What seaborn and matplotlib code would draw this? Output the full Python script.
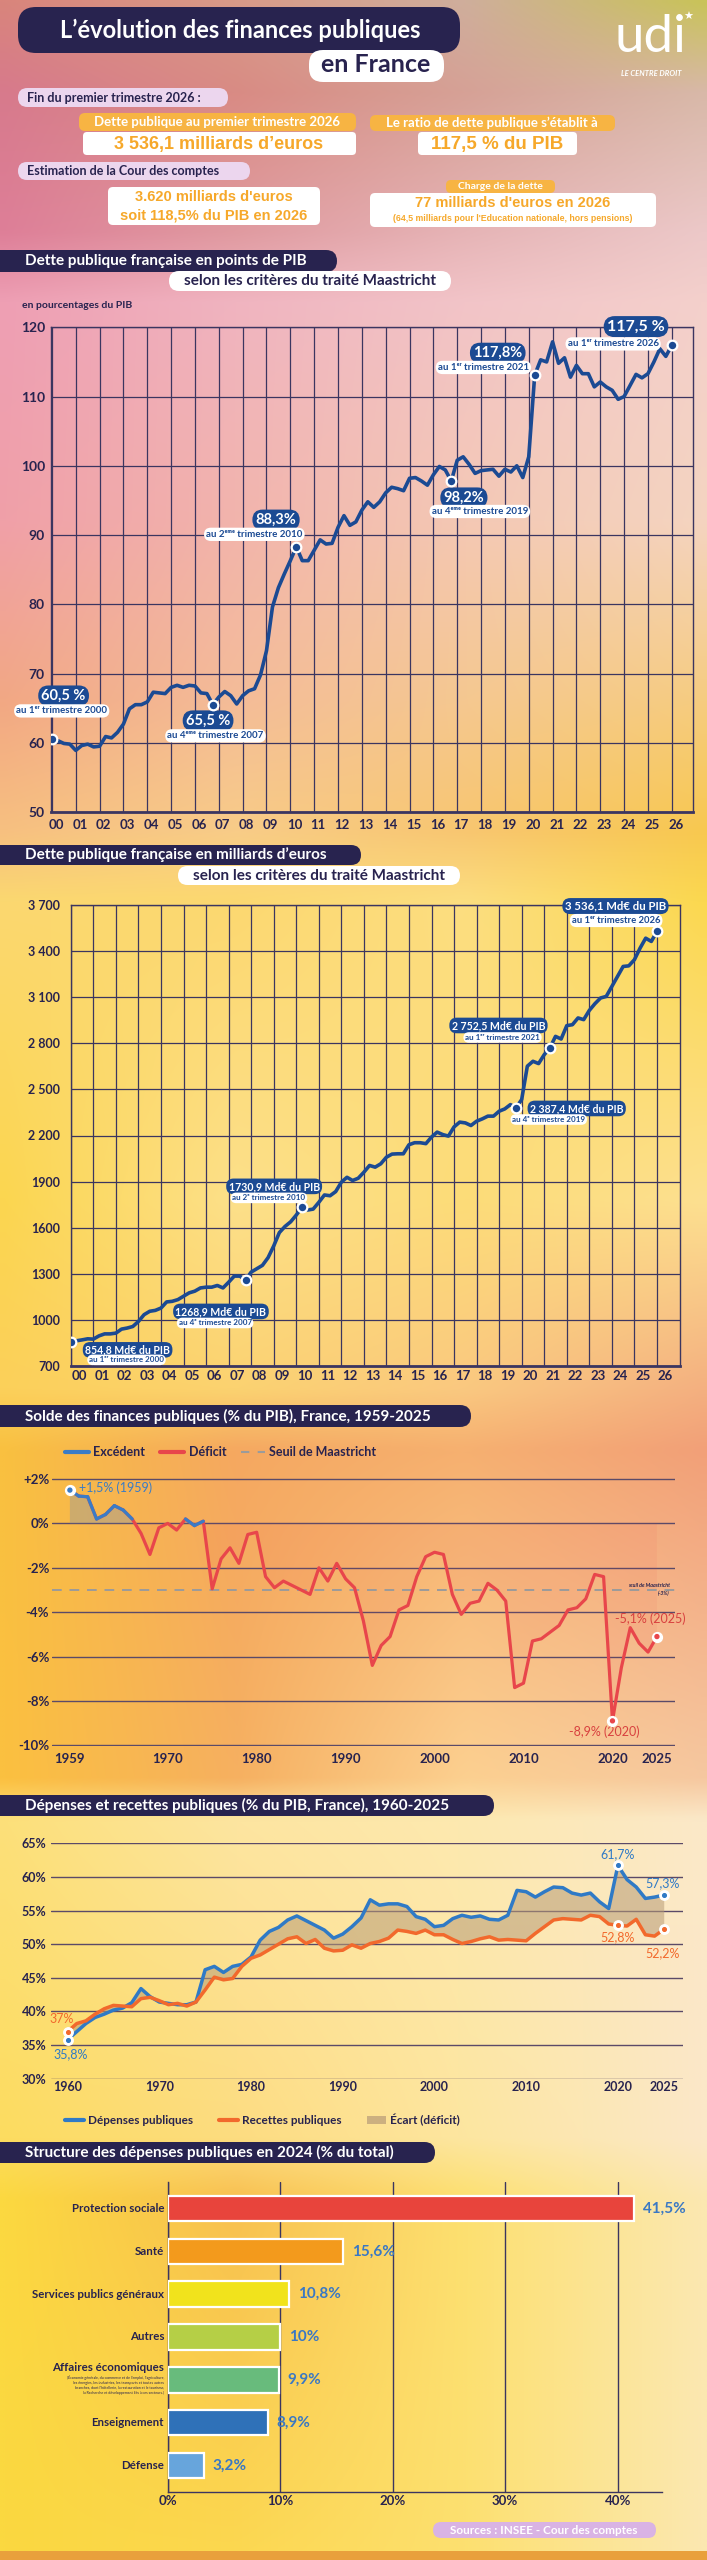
import numpy as np
import seaborn as sns
import matplotlib
matplotlib.use("Agg")
import matplotlib.pyplot as plt
from matplotlib.patches import FancyBboxPatch, Rectangle, Patch
from matplotlib.lines import Line2D
from matplotlib.colors import to_rgb

# ---------------- data ----------------
# dette publique en % du PIB, trimestres 2000T1 -> 2026T1
debt_pct = [60.5, 60.3, 59.9, 59.8, 58.9, 59.6, 59.8, 59.4, 59.5, 60.9, 60.7, 61.5,
            62.7, 64.9, 65.5, 65.5, 65.9, 67.3, 67.2, 67.1, 68.0, 68.3, 68.0, 68.3,
            68.2, 67.2, 67.1, 65.5, 66.6, 67.4, 66.8, 65.6, 66.8, 67.5, 67.8, 69.8,
            73.3, 79.6, 82.4, 84.4, 86.3, 88.3, 86.3, 86.3, 87.8, 89.3, 88.7, 88.8,
            91.1, 92.8, 91.4, 91.9, 93.6, 94.8, 94.0, 94.8, 96.1, 96.9, 96.7, 96.4,
            98.2, 98.3, 97.8, 97.2, 98.7, 99.9, 99.4, 97.8, 100.8, 101.3, 100.2, 98.9,
            99.3, 99.4, 99.5, 98.5, 99.5, 99.1, 100.0, 98.3, 101.3, 113.1, 115.3, 115.0,
            117.9, 114.8, 115.6, 112.8, 114.5, 113.3, 113.3, 111.4, 112.1, 111.4, 110.9, 109.6,
            110.0, 111.6, 113.2, 112.7, 113.3, 115.0, 116.9, 115.8, 117.4]
# dette publique en milliards d'euros, trimestres 2000T1 -> 2026T1
debt_bn = [857, 864, 870, 877, 875, 896, 909, 909, 914, 940, 947, 957,
           990, 1034, 1056, 1062, 1077, 1117, 1121, 1132, 1154, 1176, 1187, 1208,
           1213, 1213, 1224, 1208, 1245, 1285, 1285, 1259, 1311, 1333, 1355, 1405,
           1481, 1568, 1608, 1638, 1682, 1732, 1715, 1721, 1765, 1813, 1808, 1835,
           1896, 1928, 1907, 1922, 1961, 2005, 1994, 2016, 2059, 2079, 2081, 2081,
           2140, 2153, 2153, 2147, 2190, 2222, 2206, 2196, 2256, 2287, 2282, 2265,
           2293, 2308, 2326, 2326, 2358, 2373, 2401, 2380, 2434, 2651, 2683, 2668,
           2726, 2770, 2845, 2828, 2915, 2921, 2965, 2954, 3014, 3058, 3095, 3105,
           3170, 3235, 3300, 3304, 3344, 3419, 3484, 3463, 3528]
year_labels = ['00', '01', '02', '03', '04', '05', '06', '07', '08', '09', '10', '11', '12',
               '13', '14', '15', '16', '17', '18', '19', '20', '21', '22', '23', '24', '25', '26']
pct_ticks = [50, 60, 70, 80, 90, 100, 110, 120]
bn_ticks = [700, 1000, 1300, 1600, 1900, 2200, 2500, 2800, 3100, 3400, 3700]
bn_labels = ['700', '1000', '1300', '1600', '1900', '2 200', '2 500', '2 800', '3 100', '3 400', '3 700']

# solde public (% du PIB), 1959 -> 2025
solde_years = list(range(1959, 2026))
solde = [1.5, 1.23, 1.2, 0.2, 0.4, 0.8, 0.6, 0.2, -0.45, -1.4, -0.2, 0.0, -0.3, 0.2, -0.1, 0.1,
         -2.95, -1.6, -1.1, -1.8, -0.5, -0.4, -2.4, -2.9, -2.6, -2.8, -3.0, -3.2, -2.0, -2.6,
         -1.8, -2.5, -2.9, -4.4, -6.4, -5.5, -5.1, -3.9, -3.7, -2.4, -1.5, -1.3, -1.4, -3.2,
         -4.1, -3.6, -3.5, -2.7, -3.0, -3.5, -7.4, -7.2, -5.3, -5.2, -4.9, -4.6, -3.9, -3.8,
         -3.4, -2.3, -2.4, -8.9, -6.5, -4.7, -5.4, -5.8, -5.1]
solde_ticks = [2, 0, -2, -4, -6, -8, -10]
solde_labels = ['+2%', '0%', '-2%', '-4%', '-6%', '-8%', '-10%']
solde_xticks = [1959, 1970, 1980, 1990, 2000, 2010, 2020, 2025]

# dépenses et recettes publiques (% du PIB), 1960 -> 2025
dep_years = list(range(1960, 2026))
depenses = [35.8, 37.0, 38.2, 39.1, 39.6, 40.2, 40.5, 41.3, 43.4, 42.2, 41.4, 41.2, 41.0, 41.0,
            41.4, 46.2, 46.7, 45.8, 46.7, 47.0, 48.1, 50.6, 51.9, 52.5, 53.6, 54.2, 53.5, 52.8,
            52.1, 50.9, 51.5, 52.6, 53.9, 56.6, 55.8, 56.0, 56.0, 55.6, 54.1, 53.7, 52.6, 52.8,
            53.8, 54.3, 54.0, 54.2, 53.7, 53.6, 54.3, 58.0, 57.8, 57.0, 57.8, 58.5, 58.4, 57.6,
            57.3, 57.6, 56.3, 55.3, 61.7, 59.6, 58.5, 56.8, 57.0, 57.3]
recettes = [37.0, 38.2, 38.6, 39.6, 40.4, 40.9, 40.8, 40.7, 41.9, 42.1, 41.6, 41.0, 41.2, 40.8,
            41.4, 43.2, 45.1, 44.7, 44.9, 46.7, 47.9, 48.4, 49.2, 50.0, 50.8, 51.1, 50.1, 50.7,
            49.4, 49.0, 49.1, 49.9, 49.4, 50.1, 50.4, 50.9, 52.1, 51.9, 51.6, 52.1, 51.4, 51.4,
            50.7, 50.1, 50.4, 50.8, 51.1, 50.6, 50.7, 50.6, 50.5, 51.6, 52.6, 53.6, 53.8, 53.7,
            53.6, 54.3, 54.1, 53.0, 52.8, 52.7, 53.7, 51.4, 51.2, 52.2]
dep_ticks = [30, 35, 40, 45, 50, 55, 60, 65]
dep_xticks = [1960, 1970, 1980, 1990, 2000, 2010, 2020, 2025]

# structure des dépenses publiques 2024 (% du total)
struct_cats = ['Protection sociale', 'Santé', 'Services publics généraux', 'Autres',
               'Affaires économiques', 'Enseignement', 'Défense']
struct_vals = [41.5, 15.6, 10.8, 10.0, 9.9, 8.9, 3.2]
struct_val_labels = ['41,5%', '15,6%', '10,8%', '10%', '9,9%', '8,9%', '3,2%']
struct_ticks = [0, 10, 20, 30, 40]

# ---------------- style ----------------
W, H = 707, 2560
NAVY = '#28234f'
GRID = '#3b3560'
GRID_SOFT = '#5b4a68'
DEBT_BLUE = '#1b4a93'
BLUE = '#3a7cc6'
RED = '#e8464b'
ORANGE = '#f2692c'
TAN = '#b89c78'
ORANGE_TXT = '#f6a82a'
ORANGE_PILL = '#f7b443'
LAVENDER = '#ecd6ee'
struct_colors = ['#e8443c', '#f39a1c', '#f1e31c', '#b5cf46', '#68bb7c', '#2f71b8', '#67a5dc']

sns.set_theme(style="white")
plt.rcParams['font.family'] = ['Lato', 'DejaVu Sans']
plt.rcParams['axes.facecolor'] = 'none'

fig = plt.figure(figsize=(W / 100, H / 100), dpi=100)


def px_axes(x0, y0, x1, y1, z=2):
    a = fig.add_axes([x0 / W, 1 - y1 / H, (x1 - x0) / W, (y1 - y0) / H])
    a.set_zorder(z)
    a.patch.set_alpha(0)
    return a


# ---------- background gradient ----------
bg_rows = [
    (0, ['#d9857c', '#d99a88', '#cfae9c', '#c9c35a']),
    (90, ['#d77a8c', '#d98b84', '#d6a196', '#d8b8a8']),
    (230, ['#de7f98', '#e09aa0', '#e6b4b6', '#ecc8c8']),
    (300, ['#ee9fb4', '#f0b4c0', '#f2c4c8', '#f4d0cc']),
    (520, ['#f0a0a8', '#f2b4ac', '#f4c8b4', '#f4d4c0']),
    (700, ['#f2a884', '#f4bc98', '#f5c890', '#f6cc80']),
    (830, ['#f7c080', '#f8cc88', '#f8c670', '#f8c850']),
    (900, ['#fbd870', '#fcd870', '#fcde80', '#fbd850']),
    (1200, ['#fbd650', '#fde08a', '#fddc78', '#fde090']),
    (1390, ['#fcd05a', '#fbd270', '#fac880', '#f4b080']),
    (1450, ['#f9c040', '#f5a860', '#f6b070', '#f2a078']),
    (1780, ['#fbc040', '#f6b060', '#fcd090', '#f6c8a0']),
    (1820, ['#fde07a', '#fde5a0', '#fde9b0', '#fbe8c8']),
    (2140, ['#fcdc60', '#fddc80', '#fde6a0', '#fbe8c8']),
    (2200, ['#fcd840', '#f8c050', '#fde070', '#fbe8b0']),
    (2560, ['#fad840', '#fcd850', '#fde070', '#fbe8b0']),
]
ys = np.linspace(0, H, 512)
xs = np.linspace(0, 1, 64)
key_x = np.array([0, 0.33, 0.66, 1.0])
row_y = np.array([r[0] for r in bg_rows])
row_c = np.array([[to_rgb(c) for c in r[1]] for r in bg_rows])
img = np.zeros((512, 64, 3))
for ch in range(3):
    colvals = np.stack([np.interp(ys, row_y, row_c[:, k, ch]) for k in range(4)], axis=1)
    img[:, :, ch] = np.stack([np.interp(xs, key_x, colvals[i]) for i in range(512)])

bg = fig.add_axes([0, 0, 1, 1])
bg.set_zorder(0)
bg.imshow(img, extent=(0, W, H, 0), aspect='auto', interpolation='bilinear')
bg.set_xlim(0, W)
bg.set_ylim(H, 0)
bg.axis('off')

# overlay for titles / boxes (pixel coordinates)
ov = fig.add_axes([0, 0, 1, 1])
ov.set_zorder(3)
ov.patch.set_alpha(0)
ov.set_xlim(0, W)
ov.set_ylim(H, 0)
ov.axis('off')


def box(x0, y0, x1, y1, fc, r=None, ec='none'):
    h = y1 - y0
    r = h / 2 if r is None else r
    ov.add_patch(FancyBboxPatch((x0, y0), x1 - x0, h,
                                boxstyle=f"round,pad=0,rounding_size={r}", fc=fc, ec=ec, lw=0))


def otext(x, y, s, size, color=NAVY, ha='center', weight='bold', **kw):
    ov.text(x, y, s, fontsize=size, color=color, ha=ha, va='center', fontweight=weight, **kw)


def section_title(y0, y1, x1, text, sub=None):
    box(-30, y0, x1, y1, NAVY)
    otext(25, (y0 + y1) / 2, text, 11, color='white', ha='left')
    if sub is not None:
        sx0, sy0, sx1, sy1 = sub
        box(sx0, sy0, sx1, sy1, 'white')
        otext((sx0 + sx1) / 2, (sy0 + sy1) / 2, 'selon les critères du traité Maastricht', 11)


# ---------- header ----------
box(18, 7, 460, 53, NAVY, r=18)
otext(240, 30, "L’évolution des finances publiques", 17, color='white')
box(309, 50, 444, 82, 'white', r=14)
otext(376, 65, "en France", 18)
otext(650, 38, "udi", 38, color='white', weight='normal')
otext(688, 17, "★", 8, color='white', weight='normal', family=['DejaVu Sans'])
otext(651, 73, "LE CENTRE DROIT", 5.5, color='white', style='italic')

box(18, 88, 228, 107, LAVENDER)
otext(27, 97.5, "Fin du premier trimestre 2026 :", 9, ha='left')
box(79, 113, 356, 131, ORANGE_PILL, r=6)
otext(217, 122, "Dette publique au premier trimestre 2026", 9.5, color='white')
box(83, 132, 356, 155, 'white', r=4)
otext(219, 144, "3 536,1 milliards d’euros", 13, color=ORANGE_TXT, family=['Liberation Sans'])
box(370, 115, 615, 131, ORANGE_PILL, r=6)
otext(492, 123, "Le ratio de dette publique s’établit à", 9.5, color='white')
box(418, 132, 577, 155, 'white', r=4)
otext(497, 144, "117,5 % du PIB", 13.5, color=ORANGE_TXT, family=['Liberation Sans'])

box(18, 162, 250, 180, LAVENDER)
otext(27, 171, "Estimation de la Cour des comptes", 9, ha='left')
box(108, 187, 320, 225, 'white', r=5)
otext(214, 197, "3.620 milliards d'euros", 10.5, color=ORANGE_TXT, family=['Liberation Sans'])
otext(214, 215, "soit 118,5% du PIB en 2026", 10.5, color=ORANGE_TXT, family=['Liberation Sans'])
box(446, 180, 555, 193, ORANGE_PILL, r=5)
otext(500, 186.5, "Charge de la dette", 7.5, color='white')
box(370, 193, 656, 227, 'white', r=5)
otext(513, 203, "77 milliards d'euros en 2026", 10.5, color=ORANGE_TXT, family=['Liberation Sans'])
otext(513, 218.5, "(64,5 milliards pour l'Education nationale, hors pensions)", 6.3,
      color=ORANGE_TXT, family=['Liberation Sans'])


def pill_label(ax, x, y, s, size, fc, color):
    ax.text(x, y, s, ha='center', va='center', fontsize=size, fontweight='bold', color=color,
            zorder=6, bbox=dict(boxstyle='round,pad=0.22,rounding_size=0.7', fc=fc, ec='none'))


def style_grid_axes(ax):
    for s in ax.spines.values():
        s.set_visible(True)
        s.set_color(GRID)
        s.set_linewidth(1.0)
    ax.spines['bottom'].set_linewidth(2.0)
    ax.tick_params(which='both', length=0)
    for lab in ax.get_xticklabels() + ax.get_yticklabels():
        lab.set_fontweight('bold')
        lab.set_color(NAVY)


# ---------- chart 1 : dette en % du PIB ----------
section_title(250, 272, 337, "Dette publique française en points de PIB", sub=(169, 271, 451, 291))
otext(22, 306, "en pourcentages du PIB", 7.5, ha='left')

q = np.arange(len(debt_pct)) / 4
ax1 = px_axes(50.5, 327.3, 693, 812)
sns.lineplot(x=q, y=debt_pct, ax=ax1, color=DEBT_BLUE, lw=2.6, zorder=4)
ax1.set_xlim(-0.06, 26.89)
ax1.set_ylim(50, 120)
ax1.set_xticks(np.arange(len(year_labels)), minor=True)
ax1.set_xticks(np.arange(len(year_labels)) + 0.17)
ax1.set_xticklabels(year_labels, fontsize=9.5)
ax1.set_yticks(pct_ticks)
ax1.set_yticklabels([str(v) for v in pct_ticks], fontsize=10)
ax1.grid(which='minor', axis='x', color=GRID, lw=0.9)
ax1.grid(which='major', axis='y', color=GRID, lw=0.9)
ax1.grid(which='major', axis='x', visible=False)
style_grid_axes(ax1)
ax1.tick_params(axis='x', pad=5)
ax1.tick_params(axis='y', pad=4)
ax1.set_xlabel('')
ax1.set_ylabel('')
idx1 = [0, 27, 41, 67, 81, 104]
ax1.scatter(q[idx1], np.array(debt_pct)[idx1], s=48, color=DEBT_BLUE, edgecolor='white',
            linewidth=1.6, zorder=7)
for x, y, s, sz, fc, c in [
        (0.49, 66.8, "60,5 %", 10.5, DEBT_BLUE, 'white'),
        (0.41, 64.6, "au 1ᵉʳ trimestre 2000", 7, 'white', DEBT_BLUE),
        (6.55, 63.2, "65,5 %", 10.5, DEBT_BLUE, 'white'),
        (6.86, 61.0, "au 4ᵉᵐᵉ trimestre 2007", 7, 'white', DEBT_BLUE),
        (9.4, 92.2, "88,3%", 10.5, DEBT_BLUE, 'white'),
        (8.49, 90.1, "au 2ᵉᵐᵉ trimestre 2010", 7, 'white', DEBT_BLUE),
        (17.28, 95.4, "98,2%", 10.5, DEBT_BLUE, 'white'),
        (17.95, 93.4, "au 4ᵉᵐᵉ trimestre 2019", 7, 'white', DEBT_BLUE),
        (18.7, 116.3, "117,8%", 10.5, DEBT_BLUE, 'white'),
        (18.1, 114.2, "au 1ᵉʳ trimestre 2021", 7, 'white', DEBT_BLUE),
        (24.5, 120.1, "117,5 %", 11.5, DEBT_BLUE, 'white'),
        (23.54, 117.6, "au 1ᵉʳ trimestre 2026", 7, 'white', DEBT_BLUE)]:
    pill_label(ax1, x, y, s, sz, fc, c)

# ---------- chart 2 : dette en milliards ----------
section_title(845, 865, 361, "Dette publique française en milliards d’euros", sub=(178, 866, 460, 885))
q2 = np.arange(len(debt_bn)) / 4
ax2 = px_axes(70.8, 905, 679.5, 1366)
sns.lineplot(x=q2, y=debt_bn, ax=ax2, color=DEBT_BLUE, lw=2.6, zorder=4)
ax2.set_xlim(0, 27.0)
ax2.set_ylim(700, 3700)
ax2.set_xticks(np.arange(len(year_labels)), minor=True)
ax2.set_xticks(np.arange(len(year_labels)) + 0.38)
ax2.set_xticklabels(year_labels, fontsize=9.5)
ax2.set_yticks(bn_ticks)
ax2.set_yticklabels(bn_labels, fontsize=9)
ax2.grid(which='minor', axis='x', color=GRID, lw=0.9)
ax2.grid(which='major', axis='y', color=GRID, lw=0.9)
ax2.grid(which='major', axis='x', visible=False)
style_grid_axes(ax2)
ax2.tick_params(axis='x', pad=3)
ax2.tick_params(axis='y', pad=8)
ax2.set_xlabel('')
ax2.set_ylabel('')
idx2 = [0, 31, 41, 79, 85, 104]
ax2.scatter(q2[idx2], np.array(debt_bn)[idx2], s=48, color=DEBT_BLUE, edgecolor='white',
            linewidth=1.6, zorder=7)
for x, y, s, sz, fc, c in [
        (24.16, 3693, "3 536,1 Md€ du PIB", 8.2, DEBT_BLUE, 'white'),
        (24.19, 3599, "au 1ᵉʳ trimestre 2026", 6.8, 'white', DEBT_BLUE),
        (18.97, 2916, "2 752,5 Md€ du PIB", 7.6, DEBT_BLUE, 'white'),
        (19.15, 2838, "au 1ᵉʳ trimestre 2021", 5.8, 'white', DEBT_BLUE),
        (22.44, 2376, "2 387,4 Md€ du PIB", 7.6, DEBT_BLUE, 'white'),
        (21.2, 2304, "au 4ᵉ trimestre 2019", 5.8, 'white', DEBT_BLUE),
        (9.02, 1869, "1730,9 Md€ du PIB", 7.6, DEBT_BLUE, 'white'),
        (8.79, 1794, "au 2ᵉ trimestre 2010", 5.8, 'white', DEBT_BLUE),
        (6.66, 1055, "1268,9 Md€ du PIB", 7.6, DEBT_BLUE, 'white'),
        (6.4, 980, "au 4ᵉ trimestre 2007", 5.8, 'white', DEBT_BLUE),
        (2.52, 805, "854,8 Md€ du PIB", 7.6, DEBT_BLUE, 'white'),
        (2.47, 740, "au 1ᵉʳ trimestre 2000", 5.8, 'white', DEBT_BLUE)]:
    pill_label(ax2, x, y, s, sz, fc, c)

# ---------- chart 3 : solde public ----------
section_title(1405, 1427, 471, "Solde des finances publiques (% du PIB), France, 1959-2025")
ax3 = px_axes(52, 1477.9, 675, 1746.4)
s_arr = np.array(solde)
ax3.fill_between(solde_years, s_arr, 0, where=s_arr >= 0, interpolate=True,
                 color='#7f93b0', alpha=0.35, lw=0, zorder=2)
ax3.fill_between(solde_years, s_arr, 0, where=s_arr <= 0, interpolate=True,
                 color=RED, alpha=0.07, lw=0, zorder=2)
ax3.axhline(-3, color='#9b9b9b', ls=(0, (5, 4)), lw=1.4, zorder=3)
sns.lineplot(x=solde_years, y=solde, ax=ax3, color=RED, lw=2.3, zorder=4)
for i in range(len(solde) - 1):
    if (solde[i] + solde[i + 1]) / 2 >= 0:
        ax3.plot(solde_years[i:i + 2], solde[i:i + 2], color=BLUE, lw=2.3,
                 solid_capstyle='round', zorder=5)
ax3.set_xlim(1956.99, 2027.03)
ax3.set_ylim(-10.05, 2.05)
ax3.set_yticks(solde_ticks)
ax3.set_yticklabels(solde_labels, fontsize=9.5)
ax3.set_xticks(solde_xticks)
ax3.set_xticklabels([str(v) for v in solde_xticks], fontsize=9.5)
ax3.grid(axis='y', color=GRID_SOFT, lw=1.0)
ax3.grid(axis='x', visible=False)
for s in ax3.spines.values():
    s.set_visible(False)
ax3.tick_params(length=0)
ax3.tick_params(axis='y', pad=2)
ax3.tick_params(axis='x', pad=5)
for lab in ax3.get_xticklabels() + ax3.get_yticklabels():
    lab.set_fontweight('bold')
    lab.set_color(NAVY)
ax3.set_xlabel('')
ax3.set_ylabel('')
mk3 = [0, 61, 66]
mk3_col = [BLUE, RED, RED]
ax3.scatter(np.array(solde_years)[mk3], s_arr[mk3], s=50, color='white', zorder=7)
ax3.scatter(np.array(solde_years)[mk3], s_arr[mk3], s=8, color=mk3_col, zorder=8)
ax3.text(1960.0, 1.6, "+1,5% (1959)", color=BLUE, fontsize=9, ha='left', va='center', zorder=8)
ax3.text(2019.05, -9.4, "-8,9% (2020)", color='#d8413f', fontsize=9, ha='center', va='center')
ax3.text(2024.3, -4.3, "-5,1% (2025)", color='#d8413f', fontsize=9, ha='center', va='center')
ax3.text(2024.1, -2.82, "seuil de Maastricht", color=NAVY, fontsize=3.8, style='italic',
         fontweight='bold', ha='center', va='center')
ax3.text(2026.4, -3.14, "(-3%)", color=NAVY, fontsize=3.8, style='italic',
         fontweight='bold', ha='right', va='center')
leg3 = fig.legend(handles=[Line2D([], [], color=BLUE, lw=3),
                           Line2D([], [], color=RED, lw=3),
                           Line2D([], [], color='#9b9b9b', lw=1.5, ls=(0, (4, 4)))],
                  labels=['Excédent', 'Déficit', 'Seuil de Maastricht'],
                  loc='center left', bbox_to_anchor=(54 / W, 1 - 1452 / H), ncol=3,
                  frameon=False, handlelength=1.9, handletextpad=0.35, columnspacing=1.2,
                  prop={'size': 9, 'weight': 'bold'})
for t in leg3.get_texts():
    t.set_color(NAVY)

# ---------- chart 4 : dépenses et recettes ----------
section_title(1795, 1816, 494, "Dépenses et recettes publiques (% du PIB, France), 1960-2025")
ax4 = px_axes(50.5, 1843.3, 683, 2078.7)
ax4.fill_between(dep_years, depenses, recettes, color=TAN, alpha=0.55, lw=0, zorder=2)
sns.lineplot(x=dep_years, y=depenses, ax=ax4, color='#2f7ac6', lw=2.5, zorder=4)
sns.lineplot(x=dep_years, y=recettes, ax=ax4, color=ORANGE, lw=2.5, zorder=4)
ax4.set_xlim(1958.14, 2027.1)
ax4.set_ylim(30, 65)
ax4.set_yticks(dep_ticks)
ax4.set_yticklabels([f"{v}%" for v in dep_ticks], fontsize=9)
ax4.set_xticks(dep_xticks)
ax4.set_xticklabels([str(v) for v in dep_xticks], fontsize=9)
ax4.grid(axis='y', color=GRID_SOFT, lw=1.0)
ax4.grid(axis='x', visible=False)
for s in ax4.spines.values():
    s.set_visible(False)
ax4.tick_params(length=0)
ax4.tick_params(axis='y', pad=3)
ax4.tick_params(axis='x', pad=2)
for lab in ax4.get_xticklabels() + ax4.get_yticklabels():
    lab.set_fontweight('bold')
    lab.set_color(NAVY)
ax4.set_xlabel('')
ax4.set_ylabel('')
mk4 = [0, 60, 65]
dep_arr, rec_arr, yr4 = np.array(depenses), np.array(recettes), np.array(dep_years)
for arr, col in [(dep_arr, '#2f7ac6'), (rec_arr, ORANGE)]:
    ax4.scatter(yr4[mk4], arr[mk4], s=46, color='white', zorder=7)
    ax4.scatter(yr4[mk4], arr[mk4], s=7, color=col, zorder=8)
for x, y, s, c in [(2020.0, 63.4, "61,7%", '#2f7ac6'), (2024.9, 59.1, "57,3%", '#2f7ac6'),
                   (2020.0, 51.1, "52,8%", ORANGE), (2024.9, 48.7, "52,2%", ORANGE),
                   (1959.4, 38.9, "37%", ORANGE), (1960.3, 33.7, "35,8%", '#2f7ac6')]:
    ax4.text(x, y, s, color=c, fontsize=9, ha='center', va='center', zorder=9)
leg4 = fig.legend(handles=[Line2D([], [], color='#2f7ac6', lw=3),
                           Line2D([], [], color=ORANGE, lw=3),
                           Patch(fc=TAN, alpha=0.7, ec='none')],
                  labels=['Dépenses publiques', 'Recettes publiques', 'Écart (déficit)'],
                  loc='center left', bbox_to_anchor=(54 / W, 1 - 2120 / H), ncol=3,
                  frameon=False, handlelength=1.6, handletextpad=0.35, columnspacing=2.2,
                  prop={'size': 8.5, 'weight': 'bold'})
for t in leg4.get_texts():
    t.set_color(NAVY)

# ---------- chart 5 : structure des dépenses ----------
section_title(2142, 2163, 435, "Structure des dépenses publiques en 2024 (% du total)")
ax5 = px_axes(168, 2182, 662, 2492)
sns.barplot(x=struct_vals, y=struct_cats, hue=struct_cats, palette=struct_colors, legend=False,
            orient='h', width=0.6, saturation=1, edgecolor='white', linewidth=1.6, ax=ax5,
            zorder=3)
ax5.set_xlim(0, 43.95)
ax5.set_ylim(6.62, -0.62)
ax5.set_xticks(struct_ticks)
ax5.set_xticklabels([f"{v}%" for v in struct_ticks], fontsize=9.5)
ax5.set_yticks(range(len(struct_cats)))
ax5.set_yticklabels([''] * len(struct_cats))
ax5.grid(axis='x', color=GRID, lw=1.0, zorder=1)
ax5.grid(axis='y', visible=False)
ax5.set_axisbelow(True)
for s in ['top', 'right']:
    ax5.spines[s].set_visible(False)
for s in ['left', 'bottom']:
    ax5.spines[s].set_visible(True)
    ax5.spines[s].set_color(GRID)
    ax5.spines[s].set_linewidth(1.0)
ax5.tick_params(length=0)
ax5.tick_params(axis='x', pad=2)
for lab in ax5.get_xticklabels():
    lab.set_fontweight('bold')
    lab.set_color(NAVY)
ax5.set_xlabel('')
ax5.set_ylabel('')
for i, (cat, v, vl) in enumerate(zip(struct_cats, struct_vals, struct_val_labels)):
    yy = i - 0.28 if cat == 'Affaires économiques' else i
    ax5.text(-0.35, yy, cat, ha='right', va='center', fontsize=8.3, fontweight='bold',
             color=NAVY, clip_on=False)
    ax5.text(v + 0.75, i, vl, ha='left', va='center', fontsize=11, fontweight='bold',
             color='#3a78c4')
ax5.text(-0.35, 0.12 + struct_cats.index('Affaires économiques'),
         "(Économie générale, du commerce et de l'emploi, l'agriculture,\n"
         "les énergies, les industries, les transports et toutes autres\n"
         "branches, dont l'hôtellerie, la restauration et le tourisme,\n"
         "la Recherche et développement liés à ces secteurs.)",
         ha='right', va='center', fontsize=2.6, color=NAVY, linespacing=1.3, clip_on=False)

box(433, 2522, 656, 2538, '#d9b3e4')
otext(544, 2530, "Sources : INSEE - Cour des comptes", 8.5, color='white')
ov.add_patch(Rectangle((0, 2551), W, 9, fc='#e9a03c', ec='none'))

fig.savefig('out.png', dpi=100)
